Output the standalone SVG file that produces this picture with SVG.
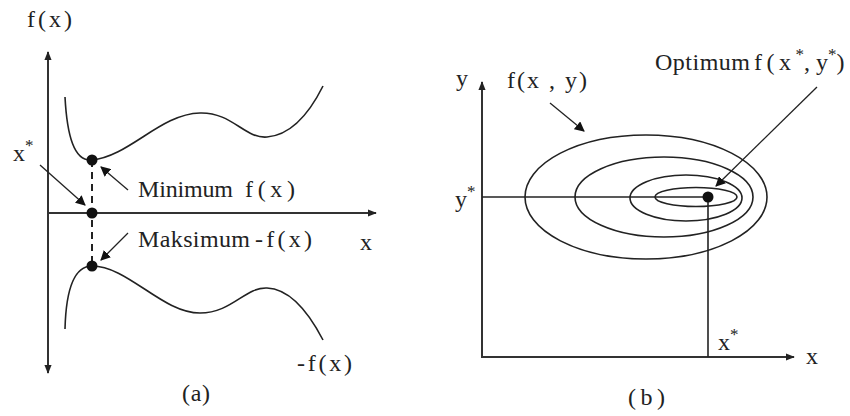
<svg xmlns="http://www.w3.org/2000/svg" width="850" height="416" viewBox="0 0 850 416">
<style>
text{font-family:'Liberation Serif',serif;font-size:24px;fill:#222}
.sup{font-size:17px}
.ax{stroke:#333;stroke-width:2;fill:none}
.cv{stroke:#222;stroke-width:1.6;fill:none}
.ar{stroke:#222;stroke-width:1.3;fill:none;marker-end:url(#ah)}
.dot{fill:#111}
</style>
<defs>
<marker id="ah" viewBox="0 0 10 10" refX="9" refY="5" markerUnits="userSpaceOnUse" markerWidth="10" markerHeight="10" orient="auto">
<path d="M0,0 L10,5 L0,10 z" fill="#111"/>
</marker>
<marker id="axh" viewBox="0 0 10 10" refX="9" refY="5" markerUnits="userSpaceOnUse" markerWidth="9" markerHeight="9" orient="auto-start-reverse">
<path d="M0,1 L10,5 L0,9 z" fill="#222"/>
</marker>
</defs>
<rect width="850" height="416" fill="#fff"/>

<g id="panel-a">
<g id="axes-a">
<line class="ax" x1="48" y1="52" x2="48" y2="373" marker-start="url(#axh)" marker-end="url(#axh)"/>
<line class="ax" x1="48" y1="213" x2="376" y2="213" marker-end="url(#axh)"/>
</g>
<g id="curve-f">
<path class="cv" d="M65,97 C67,135 74,162 92,160 C130,156 160,114 200,113 C232,112 245,139 267,137 C292,135 310,112 323,86"/>
</g>
<g id="curve-negf">
<path class="cv" d="M65,329 C66,290 74,266 92,266 C128,266 162,313 200,313 C232,313 245,287 267,288 C292,289 310,315 323,340"/>
</g>
<line x1="92" y1="160" x2="92" y2="266" stroke="#222" stroke-width="2" stroke-dasharray="7,5"/>
<circle class="dot" cx="92" cy="160" r="5.5"/>
<circle class="dot" cx="92" cy="213" r="5.5"/>
<circle class="dot" cx="92" cy="266" r="5.5"/>
<g id="labels-a">
<text x="27" y="27" textLength="45" lengthAdjust="spacing">f(x)</text>
<text x="13" y="161">x<tspan class="sup" dy="-10">*</tspan></text>
<text x="138" y="197" textLength="95" lengthAdjust="spacing">Minimum</text>
<text x="245" y="197" textLength="50" lengthAdjust="spacing">f(x)</text>
<text x="138" y="247" textLength="112" lengthAdjust="spacing">Maksimum</text>
<text x="255" y="247" textLength="57" lengthAdjust="spacing">-f(x)</text>
<text x="360" y="250">x</text>
<text x="297" y="371" textLength="55" lengthAdjust="spacing">-f(x)</text>
<text x="182" y="401" textLength="28" lengthAdjust="spacing">(a)</text>
</g>
</g>

<g id="panel-b">
<g id="axes-b">
<line class="ax" x1="482" y1="82" x2="482" y2="357" marker-start="url(#axh)"/>
<line class="ax" x1="481" y1="357" x2="794" y2="357" marker-end="url(#axh)"/>
</g>
<g id="contours">
<ellipse class="cv" cx="646" cy="197" rx="121" ry="62"/>
<ellipse class="cv" cx="664" cy="197" rx="89" ry="40"/>
<ellipse class="cv" cx="686" cy="198" rx="56" ry="23"/>
<ellipse class="cv" cx="696" cy="197" rx="41" ry="9.5"/>
</g>
<line x1="482" y1="197" x2="708" y2="197" stroke="#222" stroke-width="1.6"/>
<line x1="708" y1="197" x2="708" y2="357" stroke="#222" stroke-width="1.6"/>
<circle class="dot" cx="708" cy="197" r="5.5"/>
<g id="labels-b">
<text x="456" y="86">y</text>
<text x="507" y="88" textLength="80" lengthAdjust="spacing">f(x , y)</text>
<text x="655" y="70" textLength="95" lengthAdjust="spacing">Optimum</text>
<text x="754" y="70"><tspan textLength="37" lengthAdjust="spacing">f(x</tspan><tspan class="sup" dy="-10">*</tspan><tspan dy="10">, y</tspan><tspan class="sup" dy="-10">*</tspan><tspan dy="10">)</tspan></text>
<text x="455" y="207">y<tspan class="sup" dy="-10">*</tspan></text>
<text x="718" y="350">x<tspan class="sup" dy="-10">*</tspan></text>
<text x="806" y="364">x</text>
<text x="628" y="405" textLength="37" lengthAdjust="spacing">(b)</text>
</g>
</g>

<g id="connectors">
<line class="ar" x1="40" y1="165" x2="85" y2="205"/>
<line class="ar" x1="128" y1="190" x2="101" y2="167"/>
<line class="ar" x1="128" y1="233" x2="101" y2="260"/>
<line class="ar" x1="550" y1="103" x2="584" y2="131"/>
<line class="ar" x1="817" y1="87" x2="716" y2="186"/>
</g>
</svg>
